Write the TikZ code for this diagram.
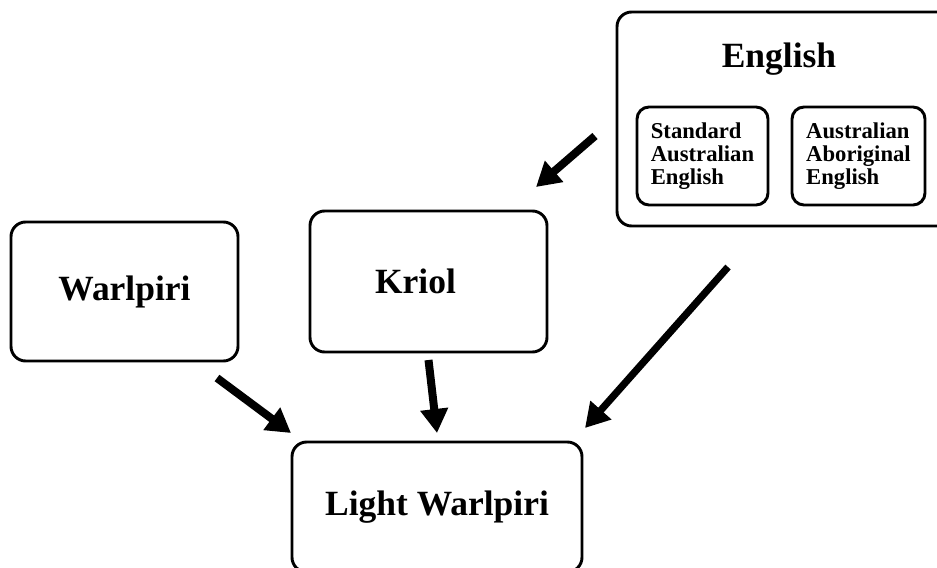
\documentclass[tikz,border=0pt]{standalone}
\usepackage{fontspec}
\setmainfont{Liberation Serif}
\usepackage{tikz}
\usetikzlibrary{arrows.meta}

\begin{document}
\begin{tikzpicture}[x=0.75pt,y=-0.75pt,
  langbox/.style={draw,line width=2.2pt,rounded corners=11pt,outer sep=0pt,
    inner sep=0pt,font=\fontsize{26.6}{30}\selectfont\bfseries},
  subbox/.style={draw,line width=2.2pt,rounded corners=9pt,outer sep=0pt,
    inner sep=0pt,align=left,font=\fontsize{17}{17.2}\selectfont\bfseries},
  bigarrow/.style={line width=6pt,-{Triangle[length=18pt,width=20pt]}}]
\clip (0,0) rectangle (937,567);
\useasboundingbox (0,0) rectangle (937,567);
% English and its two varieties
\node[langbox,minimum width=262.5pt,minimum height=160.5pt] (eng) at (792,119) {};
\node[anchor=base,font=\fontsize{26.6}{30}\selectfont\bfseries] (engtitle) at (779,67) {English};
\node[subbox,minimum width=98.25pt,minimum height=73.5pt] (sae) at (702.5,156)
  {Standard\\Australian\\English};
\node[subbox,minimum width=99.75pt,minimum height=73.5pt] (aae) at (858.5,156)
  {Australian\\Aboriginal\\English};
% Source languages
\node[langbox,minimum width=170.25pt,minimum height=104.25pt] (warl) at (124.5,291.5) {Warlpiri};
\node[langbox,minimum width=177.75pt,minimum height=105.75pt] (kriol) at (428.5,281.5)
  {Kriol\rule{19.5pt}{0pt}};
% Mixed language
\node[langbox,minimum width=217.5pt,minimum height=97.5pt] (lw) at (437,507) {Light Warlpiri};
% Arrows
\draw[bigarrow] ([shift={(-22,17)}]eng.west) -- ([shift={(-11,-24)}]kriol.north east);
\draw[bigarrow] ([shift={(-21,17)}]warl.south east) -- ([shift={(-1,-9)}]lw.north west);
\draw[bigarrow] ([shift={(0,8)}]kriol.south) -- ([shift={(0,-9)}]lw.north);
\draw[bigarrow,line width=5.4pt] ([shift={(111,41)}]eng.south west) -- ([shift={(3,-14)}]lw.north east);
\end{tikzpicture}
\end{document}
